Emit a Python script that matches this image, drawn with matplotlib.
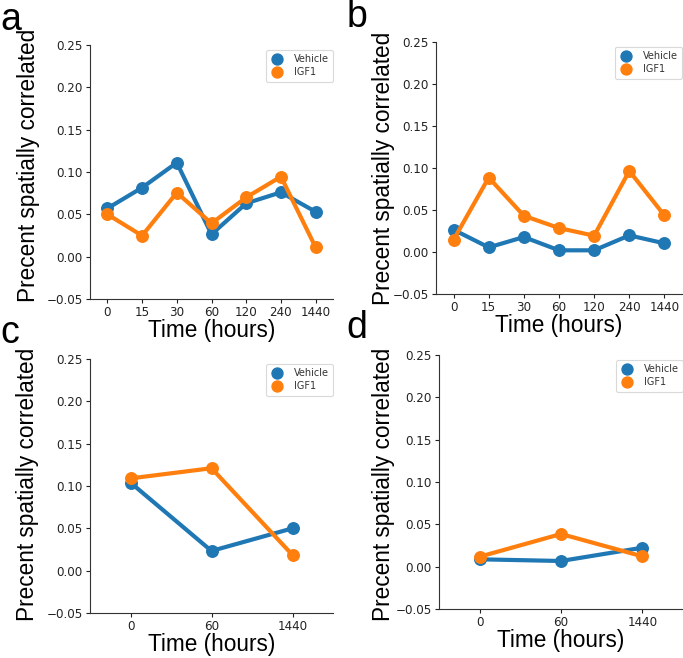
import matplotlib
matplotlib.use("Agg")
import matplotlib.pyplot as plt
import numpy as np

cats_full = ["0", "15", "30", "60", "120", "240", "1440"]
cats_short = ["0", "60", "1440"]

a_vehicle = [0.057, 0.0815, 0.111, 0.0264, 0.063, 0.076, 0.053]
a_igf1 = [0.050, 0.0248, 0.0756, 0.0394, 0.070, 0.0945, 0.011]

b_vehicle = [0.0265, 0.0055, 0.0178, 0.002, 0.002, 0.0198, 0.0103]
b_igf1 = [0.0146, 0.0886, 0.0431, 0.0285, 0.0194, 0.0965, 0.0435]

c_vehicle = [0.104, 0.0233, 0.050]
c_igf1 = [0.109, 0.121, 0.0185]

d_vehicle = [0.0087, 0.0067, 0.0224]
d_igf1 = [0.0118, 0.0386, 0.0122]

W, H = 683, 658
fig = plt.figure(figsize=(W / 100, H / 100), dpi=100)

# layout in pixels: (left, right, top, bottom), ylabel (right edge x, center y), letter pos
panels = [
    ("a", (90, 333, 45, 299), cats_full, a_vehicle, a_igf1, (40, 165), (0, 30)),
    ("b", (436, 682, 42, 294), cats_full, b_vehicle, b_igf1, (395, 168), (347, 27)),
    ("c", (90, 333, 359, 613), cats_short, c_vehicle, c_igf1, (39, 484), (0, 343)),
    ("d", (439, 683, 355, 609), cats_short, d_vehicle, d_igf1, (395, 484), (346, 338)),
]

blue = "#1f77b4"
orange = "#ff7f0e"
label_font = "Liberation Sans"

for letter, (l, r, t, b), cats, veh, igf, (ylx, yly), (lx, ly) in panels:
    ax = fig.add_axes([l / W, 1 - b / H, (r - l) / W, (b - t) / H])
    ax.plot(cats, veh, color=blue, lw=3, marker="o", ms=8.3, label="Vehicle")
    ax.plot(cats, igf, color=orange, lw=3, marker="o", ms=8.3, label="IGF1")
    ax.set_xlim(-0.5, len(cats) - 0.5)
    ax.set_ylim(-0.05, 0.25)
    ax.set_yticks([-0.05, 0.0, 0.05, 0.10, 0.15, 0.20, 0.25])
    ax.set_yticklabels(["\u22120.05", "0.00", "0.05", "0.10", "0.15", "0.20", "0.25"])
    ax.tick_params(labelsize=8.6, colors="#222222", length=2.8, pad=2.5)
    for s in ["top", "right"]:
        ax.spines[s].set_visible(False)
    for s in ["left", "bottom"]:
        ax.spines[s].set_color("#333333")
    ax.set_ylabel("Precent spatially correlated", fontsize=16.3, family=label_font)
    ax.yaxis.set_label_coords((ylx - l) / (r - l), (b - yly) / (b - t))
    ax.set_xlabel("Time (hours)", fontsize=16.3, family=label_font, labelpad=0)
    leg = ax.legend(loc="upper right", bbox_to_anchor=(1.0, 0.982), borderaxespad=0,
                    fontsize=7, markerscale=0.95, handlelength=1.4, handletextpad=1.0,
                    frameon=True, borderpad=0.45, labelspacing=0.35, labelcolor="#333333")
    for h in leg.legend_handles:
        h.set_linestyle("none")
    leg.get_frame().set_edgecolor("#d0d0d0")
    leg.get_frame().set_linewidth(0.8)
    fig.text(lx / W, 1 - ly / H, letter, fontsize=27, family=label_font,
             va="baseline", ha="left")

fig.savefig("out.png", dpi=100)
